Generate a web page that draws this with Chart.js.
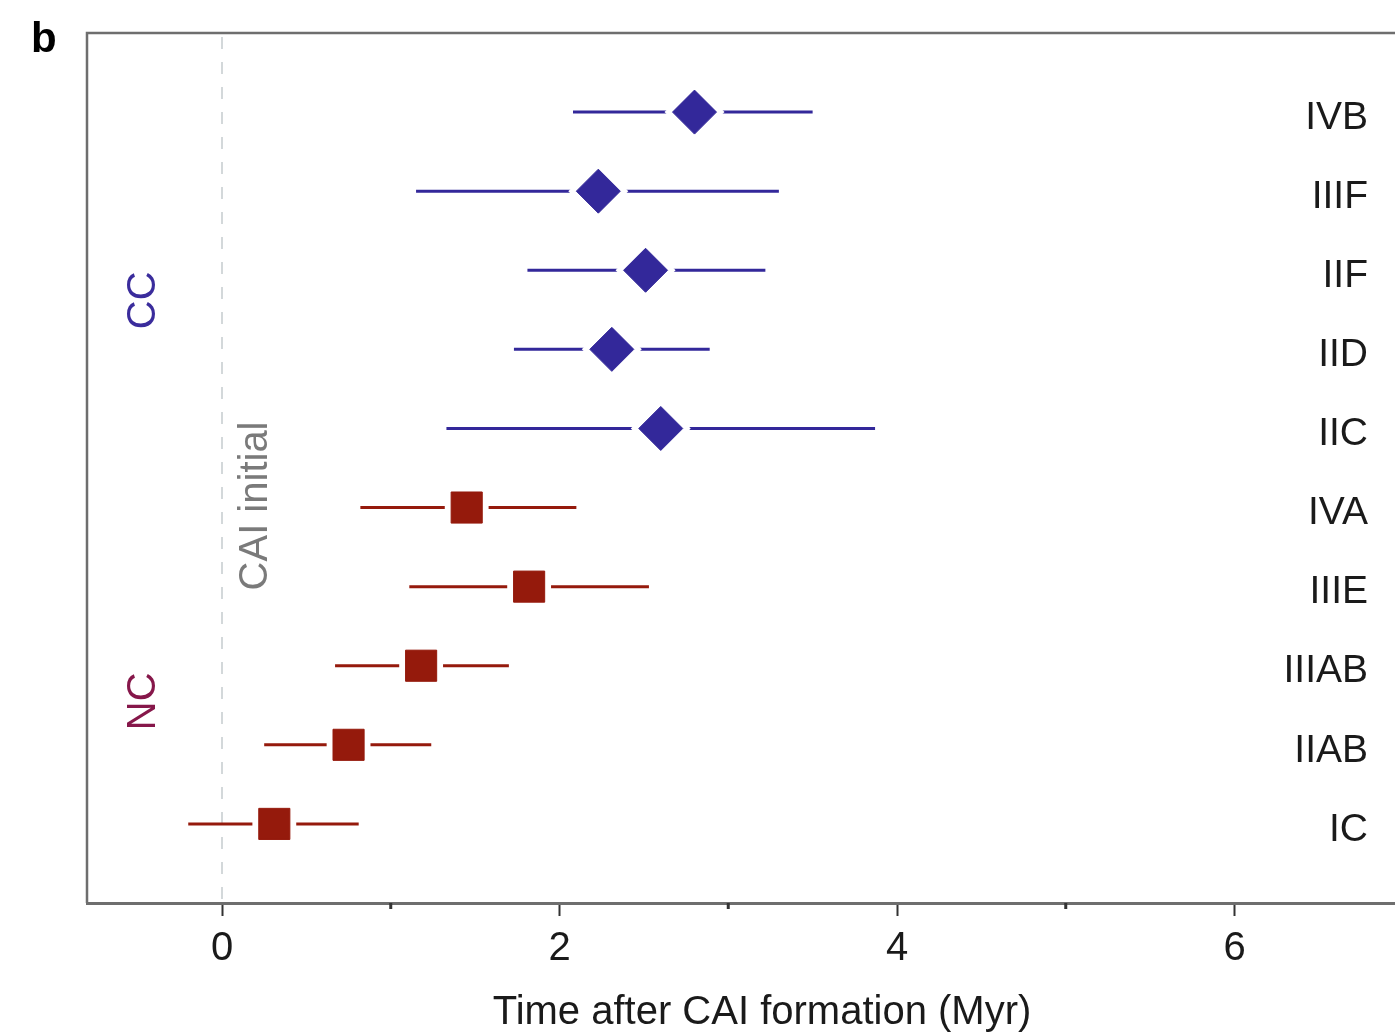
<!DOCTYPE html>
<html>
<head>
<meta charset="utf-8">
<title>Iron meteorite accretion ages</title>
<script src="https://cdn.jsdelivr.net/npm/chart.js@4/dist/chart.umd.min.js"></script>
<style>
  html, body { margin: 0; padding: 0; background: #fff; overflow: hidden; }
  #wrap { width: 1438px; height: 1041px; }
</style>
</head>
<body>
<div id="wrap"><canvas id="ageChart" width="1438" height="1041"></canvas></div>
<script>
// iron meteorite groups, top to bottom
const ccGroups = ['IVB', 'IIIF', 'IIF', 'IID', 'IIC'];
const ncGroups = ['IVA', 'IIIE', 'IIIAB', 'IIAB', 'IC'];

// accretion time after CAI formation (Myr), with lower / upper bounds
const ccTime = [2.80, 2.23, 2.51, 2.31, 2.60];
const ccLow  = [2.08, 1.15, 1.81, 1.73, 1.33];
const ccHigh = [3.50, 3.30, 3.22, 2.89, 3.87];

const ncTime = [1.45, 1.82, 1.18, 0.75, 0.31];
const ncLow  = [0.82, 1.11, 0.67, 0.25, -0.20];
const ncHigh = [2.10, 2.53, 1.70, 1.24, 0.81];

const majorTicks = [0, 2, 4, 6];
const minorTicks = [1, 3, 5];

const ccColor = '#33289a';
const ncColor = '#951a0c';
const font = '"Liberation Sans", Arial, Helvetica, sans-serif';

// rows: 1 = top group, 10 = bottom group
const allGroups = ccGroups.concat(ncGroups);
const ccRows = ccGroups.map((g, i) => i + 1);
const ncRows = ncGroups.map((g, i) => ccGroups.length + i + 1);

function points(times, rows) {
  return times.map((t, i) => ({ x: t, y: rows[i] }));
}
function bars(lows, highs, rows) {
  const out = [];
  lows.forEach((lo, i) => {
    out.push({ x: lo, y: rows[i] });
    out.push({ x: highs[i], y: rows[i] });
    out.push({ x: highs[i], y: null });
  });
  return out;
}

const decor = {
  id: 'decor',
  beforeDatasetsDraw(chart) {
    const { ctx, chartArea: a, scales: { x } } = chart;
    const x0 = x.getPixelForValue(0);
    ctx.save();
    ctx.strokeStyle = '#d3d8da';
    ctx.lineWidth = 2;
    ctx.setLineDash([12, 13]);
    ctx.beginPath();
    ctx.moveTo(x0, a.top + 4);
    ctx.lineTo(x0, a.bottom);
    ctx.stroke();
    ctx.restore();
  },
  afterDraw(chart) {
    const { ctx, chartArea: a, scales: { x, y } } = chart;
    ctx.save();
    // frame
    ctx.strokeStyle = '#6e6e6e';
    ctx.lineWidth = 2.5;
    ctx.beginPath();
    ctx.moveTo(a.left, a.bottom);
    ctx.lineTo(a.left, a.top);
    ctx.lineTo(a.right, a.top);
    ctx.lineTo(a.right, a.bottom);
    ctx.stroke();

    // minor ticks
    ctx.strokeStyle = '#333';
    ctx.lineWidth = 3;
    minorTicks.forEach(v => {
      const px = x.getPixelForValue(v);
      ctx.beginPath();
      ctx.moveTo(px, a.bottom);
      ctx.lineTo(px, a.bottom + 6);
      ctx.stroke();
    });

    // group names
    ctx.fillStyle = '#1a1a1a';
    ctx.font = '39px ' + font;
    ctx.textAlign = 'right';
    ctx.textBaseline = 'middle';
    allGroups.forEach((g, i) => {
      ctx.fillText(g, a.right - 69, y.getPixelForValue(i + 1) + 6);
    });

    // rotated annotations
    const vText = (txt, px, py, color, size) => {
      ctx.save();
      ctx.translate(px, py);
      ctx.rotate(-Math.PI / 2);
      ctx.fillStyle = color;
      ctx.font = size + 'px ' + font;
      ctx.textAlign = 'center';
      ctx.textBaseline = 'middle';
      ctx.fillText(txt, 0, 0);
      ctx.restore();
    };
    vText('CC', x.getPixelForValue(-0.465), y.getPixelForValue(3.38), '#3a2c9c', 40);
    vText('NC', x.getPixelForValue(-0.465), y.getPixelForValue(8.45), '#86174a', 40);
    vText('CAI initial', x.getPixelForValue(0.2), y.getPixelForValue(5.98), '#7a7a7a', 40);

    // panel letter
    ctx.fillStyle = '#000';
    ctx.font = 'bold 42px ' + font;
    ctx.textAlign = 'left';
    ctx.textBaseline = 'alphabetic';
    ctx.fillText('b', 31, 52);
    ctx.restore();
  }
};

new Chart(document.getElementById('ageChart'), {
  type: 'scatter',
  data: {
    datasets: [
      {
        data: points(ccTime, ccRows),
        order: 0,
        pointStyle: 'rectRot', pointRadius: 22,
        backgroundColor: ccColor, borderColor: ccColor, borderWidth: 1
      },
      {
        data: points(ncTime, ncRows),
        order: 0,
        pointStyle: 'rect', pointRadius: 22,
        backgroundColor: ncColor, borderColor: ncColor, borderWidth: 1
      },
      {
        data: points(ccTime, ccRows),
        order: 1,
        pointStyle: 'rectRot', pointRadius: 30,
        backgroundColor: '#fff', borderWidth: 0
      },
      {
        data: points(ncTime, ncRows),
        order: 1,
        pointStyle: 'rect', pointRadius: 31,
        backgroundColor: '#fff', borderWidth: 0
      },
      {
        data: bars(ccLow, ccHigh, ccRows),
        order: 2,
        showLine: true, spanGaps: false,
        borderColor: ccColor, borderWidth: 3, pointRadius: 0
      },
      {
        data: bars(ncLow, ncHigh, ncRows),
        order: 2,
        showLine: true, spanGaps: false,
        borderColor: ncColor, borderWidth: 3, pointRadius: 0
      }
    ]
  },
  options: {
    responsive: false,
    animation: false,
    devicePixelRatio: 1,
    layout: { autoPadding: false, padding: { left: 87, top: 33, right: 1, bottom: 4 } },
    plugins: { legend: { display: false }, tooltip: { enabled: false } },
    scales: {
      x: {
        type: 'linear',
        min: -0.8,
        max: 7.2,
        afterBuildTicks: axis => { axis.ticks = majorTicks.map(v => ({ value: v })); },
        afterFit: axis => { axis.paddingLeft = 0; axis.paddingRight = 0; },
        grid: {
          drawOnChartArea: false,
          drawTicks: true,
          tickLength: 13,
          tickColor: '#333',
          tickWidth: 2
        },
        border: { color: '#6e6e6e', width: 3 },
        ticks: {
          color: '#1a1a1a',
          font: { family: font, size: 40 },
          padding: 9,
          maxRotation: 0
        },
        title: {
          display: true,
          text: 'Time after CAI formation (Myr)',
          color: '#1a1a1a',
          font: { family: font, size: 40 },
          padding: { top: 7, bottom: 0 }
        }
      },
      y: {
        type: 'linear',
        display: false,
        reverse: true,
        min: 0,
        max: 11
      }
    }
  },
  plugins: [decor]
});
</script>
</body>
</html>
